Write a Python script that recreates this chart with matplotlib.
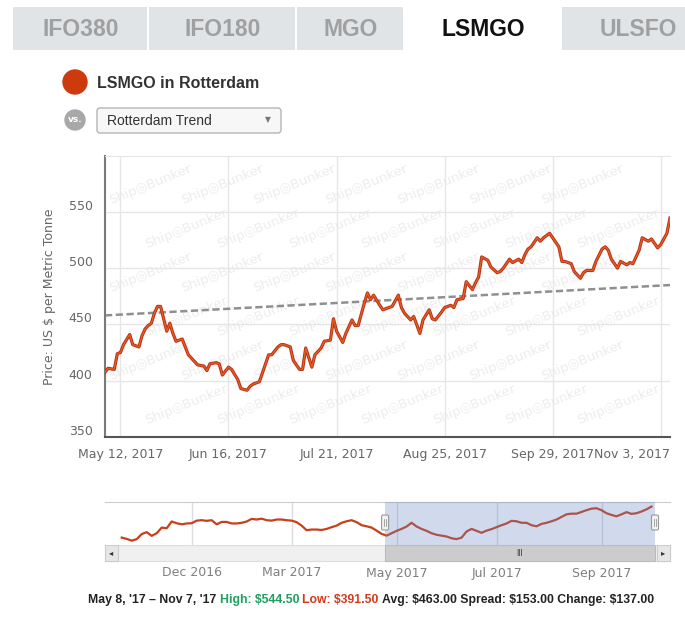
import numpy as np
import pandas as pd
import matplotlib
matplotlib.use("Agg")
import matplotlib.pyplot as plt
import matplotlib.transforms as mtransforms
from matplotlib.patches import Rectangle, Circle, FancyBboxPatch

# ---- data ----
tabs = ["IFO380", "IFO180", "MGO", "LSMGO", "ULSFO"]
active_tab = "LSMGO"
series_name = "LSMGO in Rotterdam"
compare_name = "Rotterdam Trend"
y_title = "Price: US $ per Metric Tonne"

price_dates = [
    "2017-05-07", "2017-05-08", "2017-05-10", "2017-05-11", "2017-05-12", "2017-05-13",
    "2017-05-15", "2017-05-16", "2017-05-18", "2017-05-19", "2017-05-20", "2017-05-21",
    "2017-05-22", "2017-05-23", "2017-05-24", "2017-05-25", "2017-05-27", "2017-05-28",
    "2017-05-29", "2017-05-30", "2017-06-01", "2017-06-02", "2017-06-03", "2017-06-05",
    "2017-06-06", "2017-06-08", "2017-06-09", "2017-06-10", "2017-06-12", "2017-06-13",
    "2017-06-14", "2017-06-16", "2017-06-17", "2017-06-19", "2017-06-20", "2017-06-22",
    "2017-06-23", "2017-06-24", "2017-06-26", "2017-06-27", "2017-06-29", "2017-06-30",
    "2017-07-02", "2017-07-03", "2017-07-04", "2017-07-06", "2017-07-07", "2017-07-09",
    "2017-07-10", "2017-07-11", "2017-07-13", "2017-07-14", "2017-07-16", "2017-07-17",
    "2017-07-19", "2017-07-20", "2017-07-21", "2017-07-23", "2017-07-24", "2017-07-26",
    "2017-07-27", "2017-07-28", "2017-07-30", "2017-07-31", "2017-08-01", "2017-08-02",
    "2017-08-04", "2017-08-05", "2017-08-07", "2017-08-08", "2017-08-10", "2017-08-11",
    "2017-08-12", "2017-08-14", "2017-08-15", "2017-08-17", "2017-08-18", "2017-08-20",
    "2017-08-21", "2017-08-22", "2017-08-24", "2017-08-25", "2017-08-27", "2017-08-28",
    "2017-08-29", "2017-08-31", "2017-09-01", "2017-09-03", "2017-09-04", "2017-09-05",
    "2017-09-06", "2017-09-08", "2017-09-09", "2017-09-11", "2017-09-12", "2017-09-13",
    "2017-09-15", "2017-09-16", "2017-09-18", "2017-09-19", "2017-09-20", "2017-09-21",
    "2017-09-22", "2017-09-24", "2017-09-25", "2017-09-26", "2017-09-28", "2017-09-29",
    "2017-10-01", "2017-10-02", "2017-10-03", "2017-10-05", "2017-10-06", "2017-10-08",
    "2017-10-09", "2017-10-10", "2017-10-12", "2017-10-13", "2017-10-15", "2017-10-16",
    "2017-10-17", "2017-10-18", "2017-10-20", "2017-10-21", "2017-10-23", "2017-10-24",
    "2017-10-25", "2017-10-27", "2017-10-28", "2017-10-30", "2017-10-31", "2017-11-02",
    "2017-11-03", "2017-11-05", "2017-11-06",
]
prices = [
    407.5, 411, 410, 424, 425, 432,
    441, 432, 430, 440, 446, 449,
    451, 460, 466, 466, 444, 451,
    442, 435, 437, 430, 423, 417,
    414, 413, 409, 415, 416, 415,
    405, 412, 410, 401, 393, 391.5,
    395, 397, 399, 407, 423, 423,
    430, 432, 432, 430, 418, 410,
    410, 429, 412, 423, 429, 435,
    436, 455, 444, 434, 442, 454,
    449, 449, 469, 478, 472, 476,
    467, 463, 465, 466, 476, 465,
    460, 454, 457, 442, 454, 463,
    455, 454, 461, 465, 467, 465,
    472, 473, 488, 481, 487, 492,
    510, 507, 501, 496, 497, 500,
    508, 505, 508, 505, 512, 517,
    519, 527, 524, 527, 531, 527,
    519, 506, 506, 504, 497, 491,
    496, 498, 498, 506, 517, 519,
    516, 508, 500, 506, 503, 505,
    504, 516, 527, 524, 526, 518,
    521, 531, 544.5,
]
trend_values = [458, 485]   # trend line at first and last date

tick_dates = ["2017-05-12", "2017-06-16", "2017-07-21", "2017-08-25", "2017-09-29", "2017-11-03"]
y_ticks = [350, 400, 450, 500, 550]

# navigator (one year, ordinal spacing)
nav_prices = [
    402, 396, 388, 395, 418, 427, 410, 422, 448, 445, 476, 468, 463, 467, 468,
    480, 482, 479, 482, 463, 474, 474, 467, 467, 470, 476, 488, 485, 489, 482,
    480, 485, 485, 482, 480, 473, 457, 436, 439, 439, 437, 442, 450, 457, 470,
    477, 482, 473, 459, 454, 448, 434, 419, 411,
    422, 433, 442, 453, 470, 453, 442, 433, 422, 415, 411, 407, 399, 395, 402,
    430, 442, 433, 424, 434, 441, 450, 459, 467, 479, 477, 470, 470, 459, 454,
    465, 470, 477, 485, 497, 509, 512, 512, 520, 528, 535, 537, 528, 514, 506,
    500, 509, 519, 511, 514, 522, 532, 544.5,
]
nav_tick_labels = ["Dec 2016", "Mar 2017", "May 2017", "Jul 2017", "Sep 2017"]
nav_tick_index = [14, 34, 55, 75, 96]
nav_window = [52.7, 106.7]   # selected range (May 8 - Nov 7)

period = "May 8, '17 \u2013 Nov 7, '17"
high, low, avg, spread, change = 544.50, 391.50, 463.00, 153.00, 137.00

# ---- figure in pixel units ----
W, H = 685, 617
fig = plt.figure(figsize=(W / 100, H / 100), dpi=100)


def box(x0, y0, x1, y1):
    return [x0 / W, 1 - y1 / H, (x1 - x0) / W, (y1 - y0) / H]


bg = fig.add_axes([0, 0, 1, 1], zorder=0)
bg.set_xlim(0, W)
bg.set_ylim(H, 0)
bg.axis("off")

sans = ["Liberation Sans", "DejaVu Sans"]

# tabs
edges = [13, 149, 297, 405, 562, 714]
for i, name in enumerate(tabs):
    x0, x1 = edges[i], edges[i + 1]
    on = name == active_tab
    bg.add_patch(Rectangle((x0, 7), x1 - x0 - 2, 43, facecolor="white" if on else "#e1e4e6",
                           edgecolor="none"))
    bg.text((x0 + x1) / 2, 29, name, ha="center", va="center", fontsize=16.5, weight="bold",
            color="#111111" if on else "#a0a0a0", family=sans)

# legend / compare selector
bg.add_patch(Circle((75, 82), 12, color="#cc3a0e"))
bg.text(97, 83, series_name, va="center", fontsize=11.5, weight="bold", color="#333333", family=sans)
bg.add_patch(Circle((75, 120), 10, color="#a8a8a8"))
bg.text(75, 120, "vs.", ha="center", va="center", fontsize=6.5, weight="bold", color="white")
bg.add_patch(FancyBboxPatch((97, 108), 184, 25, boxstyle="round,pad=0,rounding_size=3",
                            facecolor="#f7f7f7", edgecolor="#b5b5b5", lw=1))
bg.text(107, 121, compare_name, va="center", fontsize=10, color="#333333", family=sans)
bg.text(268, 120, "\u25bc", ha="center", va="center", fontsize=5.5, color="#777777")

# ---- main chart ----
ax = fig.add_axes(box(105, 155.7, 670, 436.9), zorder=1)
dates = pd.to_datetime(price_dates)
ax.plot(dates, prices, color="#b5311a", lw=2.3, solid_joinstyle="round", zorder=3)
ax.plot(dates, prices, color="#e8601e", lw=0.9, solid_joinstyle="round", zorder=4)
ax.plot([dates[0], dates[-1]], trend_values, color="#8f8f8f", lw=1.8,
        ls=(0, (2.9, 1.4)), zorder=2)

ax.set_xlim(dates[0], dates[-1])
ax.set_ylim(350, 600)
ax.set_yticks(y_ticks)
ticks = pd.to_datetime(tick_dates)
ax.set_xticks(ticks)
tick_text = [f"{d:%b} {d.day}, {d.year}" for d in ticks]
ax.set_xticklabels(tick_text[:-1] + [""])
ax.grid(True, color="#e6e6e6", lw=1)
ax.set_axisbelow(True)
ax.tick_params(length=0, labelsize=9, labelcolor="#666666")
ax.tick_params(axis="x", pad=8)
ax.tick_params(axis="y", pad=9)
ax.spines["right"].set_visible(False)
ax.spines["top"].set_color("#e6e6e6")
ax.spines["left"].set_color("#7a7a7a")
ax.spines["left"].set_linewidth(1.5)
ax.spines["bottom"].set_color("#555555")
ax.spines["bottom"].set_linewidth(1.5)

up = mtransforms.ScaledTranslation(0, 7 / 100, fig.dpi_scale_trans)
for lbl in ax.get_yticklabels():
    lbl.set_transform(lbl.get_transform() + up)

# last date label pushed inside the plot edge, like the original
down = mtransforms.ScaledTranslation(0, -8 * 100 / 72 / 100, fig.dpi_scale_trans)
ax.text(1.0, 0, tick_text[-1], transform=ax.transAxes + down, ha="right", va="top",
        fontsize=9, color="#666666")

ax.set_ylabel(y_title, fontsize=9, color="#666666")
ax.yaxis.set_label_coords(-0.087, 0.5)

# watermark (kept inside the plot area)
for r in range(6):
    for c in range(7):
        px = 150 + c * 72 + (r % 2) * 36
        py = 185 + r * 44
        ax.text((px - 105) / 565, 1 - (py - 155.7) / 281.2, "Ship\u25ceBunker",
                transform=ax.transAxes, rotation=22, ha="center", va="center",
                fontsize=9.5, color="#ededed", zorder=0)

# ---- navigator ----
nx0, nx1 = 105, 670
nav = fig.add_axes(box(nx0, 501.7, nx1, 545), zorder=1)
idx = np.arange(len(nav_prices))
nav.plot(idx, nav_prices, color="#c8401a", lw=1.6, zorder=2)
xmin, xmax = -3.34, 109.7
nav.set_xlim(xmin, xmax)
nav.set_ylim(368, 567)
nav.axvspan(nav_window[0], nav_window[1], color=(0.4, 0.52, 0.76, 0.3), lw=0, zorder=3)
nav.set_xticks(nav_tick_index)
nav.set_yticks([])
nav.grid(axis="x", color="#dcdcdc", lw=1)
nav.tick_params(length=0, labelbottom=False)
for s in ["left", "right", "bottom"]:
    nav.spines[s].set_visible(False)
nav.spines["top"].set_color("#cccccc")


def nav_px(v):
    return nx0 + (v - xmin) / (xmax - xmin) * (nx1 - nx0)


hx0, hx1 = nav_px(nav_window[0]), nav_px(nav_window[1])

fg = fig.add_axes([0, 0, 1, 1], zorder=5)
fg.set_xlim(0, W)
fg.set_ylim(H, 0)
fg.axis("off")
fg.patch.set_alpha(0)
for hx in (hx0, hx1):
    fg.add_patch(FancyBboxPatch((hx - 3.5, 515), 7, 15, boxstyle="round,pad=0,rounding_size=1.5",
                                facecolor="#f2f2f2", edgecolor="#999999", lw=0.8))
    fg.plot([hx - 0.8, hx - 0.8], [519, 526], color="#999999", lw=0.6)
    fg.plot([hx + 0.8, hx + 0.8], [519, 526], color="#999999", lw=0.6)

# scrollbar
bg.add_patch(Rectangle((nx0, 545), nx1 - nx0, 16, facecolor="#f0f0f0", edgecolor="#dddddd", lw=0.8))
bg.add_patch(Rectangle((hx0, 545), hx1 - hx0, 16, facecolor="#cccccc", edgecolor="#bbbbbb", lw=0.8))
bg.text((hx0 + hx1) / 2, 553, "III", ha="center", va="center", fontsize=5.5, color="#333333")
bg.add_patch(Rectangle((nx0, 545), 13, 16, facecolor="#e6e6e6", edgecolor="#cccccc", lw=0.8))
bg.add_patch(Rectangle((nx1 - 13, 545), 13, 16, facecolor="#e6e6e6", edgecolor="#cccccc", lw=0.8))
bg.text(nx0 + 6.5, 553, "\u25c2", ha="center", va="center", fontsize=6, color="#333333")
bg.text(nx1 - 6.5, 553, "\u25b8", ha="center", va="center", fontsize=6, color="#333333")

for lab, i in zip(nav_tick_labels, nav_tick_index):
    bg.text(nav_px(i), 573, lab, ha="center", va="center", fontsize=9, color="#7f7f7f")

# ---- summary line ----
bold = dict(fontsize=8.8, weight="bold", family=sans, parse_math=False)
t = bg.text(88, 600, period + " ", va="center", color="#222222", **bold)
pieces = [
    (f"High: ${high:.2f} ", "#1f9e5f"),
    (f"Low: ${low:.2f} ", "#d8391a"),
    (f"Avg: ${avg:.2f} Spread: ${spread:.2f} Change: ${change:.2f}", "#222222"),
]
for txt, col in pieces:
    t = bg.annotate(txt, xy=(1, 0), xycoords=t, va="bottom", ha="left", color=col, **bold)

fig.savefig("out.png", dpi=100, facecolor="white")
